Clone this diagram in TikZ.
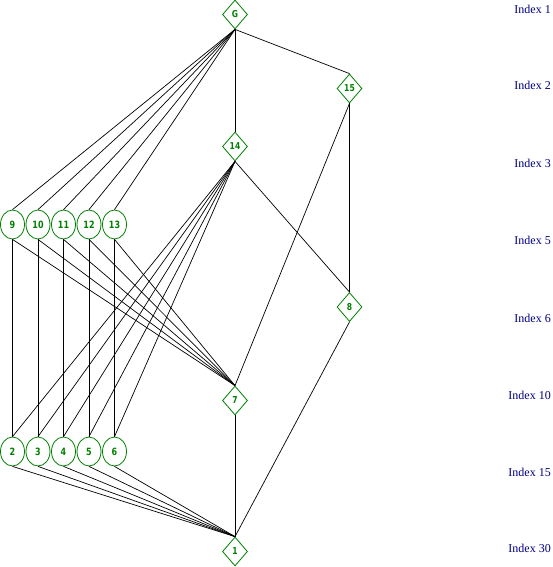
\documentclass[tikz,border=0pt]{standalone}
\usepackage{fontspec}
\setmainfont{Liberation Serif}
\newfontfamily\nodefont[FakeStretch=0.8]{DejaVu Sans}
\usetikzlibrary{shapes.geometric}
\definecolor{ngreen}{HTML}{008000}
\definecolor{nnavy}{HTML}{000080}
\begin{document}
\begin{tikzpicture}[x=1pt,y=-1pt,
  dia/.style={diamond,draw=ngreen,line width=0.8pt,inner sep=0pt,minimum width=25pt,minimum height=29pt,text=ngreen,font=\nodefont\fontsize{9.5}{9.5}\selectfont\bfseries},
  ell/.style={ellipse,draw=ngreen,line width=0.8pt,inner sep=0pt,minimum width=24pt,minimum height=29pt,text=ngreen,font=\nodefont\fontsize{10}{10}\selectfont\bfseries},
  idx/.style={anchor=base east,text=nnavy,inner sep=0pt,font=\fontsize{12}{12}\selectfont},
  edge/.style={line width=0.7pt,black}]
\useasboundingbox (0,0) rectangle (552,567);
% diamonds
\node[dia] (G) at (235,14.5) {G};
\node[dia] (n15) at (349.5,88.5) {15};
\node[dia] (n14) at (235,146.5) {14};
\node[dia] (n8) at (349.5,307) {8};
\node[dia] (n7) at (235,400.5) {7};
\node[dia] (n1) at (235,551.5) {1};
% ellipses top row
\node[ell] (n9) at (12.5,224.5) {9};
\node[ell] (n10) at (38,224.5) {10};
\node[ell] (n11) at (63.5,224.5) {11};
\node[ell] (n12) at (89,224.5) {12};
\node[ell] (n13) at (114.5,224.5) {13};
% ellipses bottom row
\node[ell] (n2) at (12.5,451.5) {2};
\node[ell] (n3) at (38,451.5) {3};
\node[ell] (n4) at (63.5,451.5) {4};
\node[ell] (n5) at (89,451.5) {5};
\node[ell] (n6) at (114.5,451.5) {6};
% index labels
\node[idx] (i1) at (551,14) {Index 1};
\node[idx] (i2) at (551,90) {Index 2};
\node[idx] (i3) at (551,167) {Index 3};
\node[idx] (i5) at (551,244) {Index 5};
\node[idx] (i6) at (551,322) {Index 6};
\node[idx] (i10) at (551,399) {Index 10};
\node[idx] (i15) at (551,476) {Index 15};
\node[idx] (i30) at (551,552) {Index 30};
% edges
\foreach \t in {n9,n10,n11,n12,n13,n14,n15}
  \draw[edge] (G.south) -- (\t.north);
\foreach \t in {n2,n3,n4,n5,n6,n8}
  \draw[edge] (n14.south) -- (\t.north);
\foreach \s in {n9,n10,n11,n12,n13}
  \draw[edge] (\s.south) -- (n7.north);
\draw[edge] (n9.south) -- (n2.north);
\draw[edge] (n10.south) -- (n3.north);
\draw[edge] (n11.south) -- (n4.north);
\draw[edge] (n12.south) -- (n5.north);
\draw[edge] (n13.south) -- (n6.north);
\draw[edge] (n15.south) -- (n8.north);
\draw[edge] (n15.south) -- (n7.north);
\foreach \s in {n2,n3,n4,n5,n6,n7,n8}
  \draw[edge] (\s.south) -- (n1.north);
\end{tikzpicture}
\end{document}
